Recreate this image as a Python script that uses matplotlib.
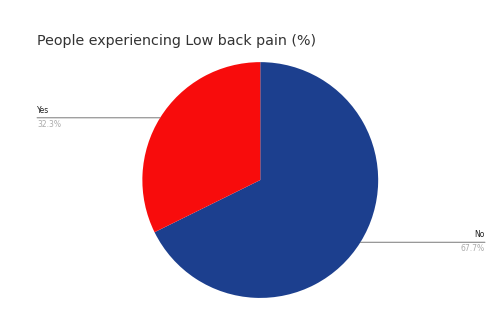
import matplotlib
matplotlib.use("Agg")

import matplotlib.pyplot as plt
import numpy as np

# ── Data ──────────────────────────────────────────────────────────────────────
labels = ["No", "Yes"]
values = [67.7, 32.3]
colors = ["#1c3f8e", "#f80c0c"]

fig = plt.figure(figsize=(5.01, 3.34), dpi=100)
fig.patch.set_facecolor("white")
ax = fig.add_axes([0.284, 0.108, 0.471, 0.706])

wedges, _ = ax.pie(values, colors=colors, startangle=90, counterclock=False,
                   wedgeprops=dict(linewidth=0))
ax.set_xlim(-1, 1)
ax.set_ylim(-1, 1)
ax.set_aspect("equal")

fig.text(0.074, 0.865, "People experiencing Low back pain (%)",
         fontsize=10.3, color="#333333")

# Leader lines + labels, Google-charts style
label_x = {"Yes": (0.074, "left"), "No": (0.968, "right")}
for w, lab, val in zip(wedges, labels, values):
    mid = np.deg2rad((w.theta1 + w.theta2) / 2)
    px, py = np.cos(mid), np.sin(mid)
    fx, ha = label_x[lab]
    ax.annotate("", xy=(px, py), xytext=(fx, py),
                xycoords="data", textcoords=("figure fraction", "data"),
                arrowprops=dict(arrowstyle="-", color="#777777", lw=0.7,
                                shrinkA=0, shrinkB=0),
                annotation_clip=False)
    ax.annotate(lab, xy=(fx, py), xycoords=("figure fraction", "data"),
                xytext=(0, 2), textcoords="offset points",
                ha=ha, va="bottom", fontsize=5.5, color="#222222",
                annotation_clip=False)
    ax.annotate(f"{val}%", xy=(fx, py), xycoords=("figure fraction", "data"),
                xytext=(0, -1.5), textcoords="offset points",
                ha=ha, va="top", fontsize=5.5, color="#aaaaaa",
                annotation_clip=False)

plt.savefig("out.png", dpi=100)
plt.close(fig)
